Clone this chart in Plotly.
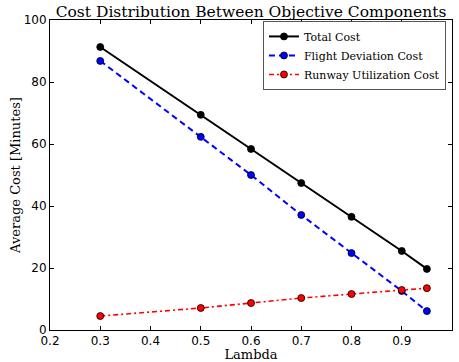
import plotly.graph_objects as go

lambdas = [0.3, 0.5, 0.6, 0.7, 0.8, 0.9, 0.95]
total_cost = [91.3, 69.4, 58.4, 47.4, 36.5, 25.5, 19.7]
flight_cost = [86.8, 62.3, 50.0, 37.1, 24.8, 12.6, 6.1]
runway_cost = [4.5, 7.1, 8.7, 10.3, 11.6, 12.9, 13.5]

x_ticks = [0.2, 0.3, 0.4, 0.5, 0.6, 0.7, 0.8, 0.9, 1.0]
y_ticks = [0, 20, 40, 60, 80, 100]

serif = "DejaVu Serif"
sans = "DejaVu Sans"

fig = go.Figure()
marker_line = dict(color="black", width=0.8)
fig.add_trace(go.Scatter(
    x=lambdas, y=total_cost, name="Total Cost", mode="lines+markers",
    line=dict(color="black", width=2, dash="solid"),
    marker=dict(color="black", size=7, line=marker_line)))
fig.add_trace(go.Scatter(
    x=lambdas, y=flight_cost, name="Flight Deviation Cost", mode="lines+markers",
    line=dict(color="blue", width=2, dash="6px,4px"),
    marker=dict(color="blue", size=7, line=marker_line)))
fig.add_trace(go.Scatter(
    x=lambdas, y=runway_cost, name="Runway Utilization Cost", mode="lines+markers",
    line=dict(color="red", width=1.6, dash="5px,3px,2px,3px"),
    marker=dict(color="red", size=7, line=marker_line)))

axis_common = dict(
    showgrid=False, zeroline=False, showline=True, linecolor="black", linewidth=1,
    mirror="ticks", ticks="inside", ticklen=4, tickwidth=1, tickcolor="black",
    tickfont=dict(family=sans, size=12, color="black"), automargin=False,
)
fig.update_xaxes(range=[0.2, 1.0], tickvals=x_ticks,
                 ticktext=[f"{v:.1f}" for v in x_ticks],
                 title=dict(text="Lambda", font=dict(family=serif, size=13, color="black"),
                            standoff=5),
                 **axis_common)
fig.update_yaxes(range=[0, 100], tickvals=y_ticks,
                 title=dict(text="Average Cost [Minutes]",
                            font=dict(family=serif, size=13, color="black"), standoff=0),
                 **axis_common)

fig.update_layout(
    width=459, height=362,
    margin=dict(l=50, r=7, t=20, b=32),
    paper_bgcolor="white", plot_bgcolor="white",
    title=dict(text="Cost Distribution Between Objective Components",
               font=dict(family=serif, size=15.5, color="black"),
               xref="paper", x=0.5, xanchor="center",
               yref="container", y=0.968, yanchor="middle"),
    showlegend=True,
    legend=dict(x=0.985, y=0.997, xanchor="right", yanchor="top",
                bgcolor="white", bordercolor="#555", borderwidth=1,
                font=dict(family=serif, size=11, color="black"),
                itemwidth=30, tracegroupgap=0),
)

fig.write_html("out.html")
